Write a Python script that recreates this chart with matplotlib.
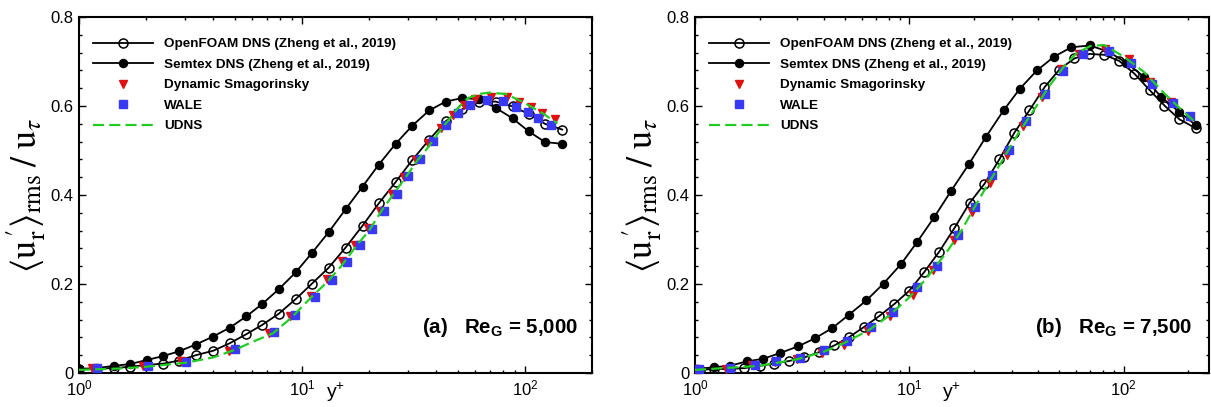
import matplotlib
matplotlib.use("Agg")
import matplotlib.pyplot as plt
from matplotlib.ticker import LogLocator, MultipleLocator, NullFormatter, FuncFormatter

plt.rcParams['font.family'] = ['Liberation Sans', 'DejaVu Sans']
plt.rcParams['mathtext.fontset'] = 'custom'
plt.rcParams['mathtext.rm'] = 'Liberation Sans'
plt.rcParams['mathtext.bf'] = 'Liberation Sans:bold'

# ---------------------------------------------------------------- data
# (a) Re_G = 5,000
semtex_x_a = [1.0, 1.2, 1.43, 1.69, 2.01, 2.38, 2.82, 3.34, 4.0, 4.75, 5.62, 6.63,
              7.86, 9.37, 11.1, 13.2, 15.7, 18.7, 22.1, 26.3, 31.3, 37.2, 44.2,
              52.5, 62.0, 73.9, 88.2, 104, 123, 147]
semtex_y_a = [0.009, 0.011, 0.016, 0.020, 0.029, 0.038, 0.049, 0.064, 0.082, 0.102,
              0.127, 0.155, 0.188, 0.226, 0.270, 0.317, 0.368, 0.419, 0.468, 0.515,
              0.556, 0.590, 0.610, 0.618, 0.615, 0.596, 0.572, 0.543, 0.519, 0.515]
ofoam_y_a = [0.009, 0.010, 0.011, 0.014, 0.018, 0.021, 0.028, 0.040, 0.050, 0.067,
             0.087, 0.108, 0.133, 0.166, 0.201, 0.237, 0.282, 0.331, 0.381, 0.429,
             0.479, 0.524, 0.566, 0.593, 0.608, 0.610, 0.599, 0.582, 0.560, 0.547]
dsmag_x_a = [1.14, 1.93, 2.88, 4.71, 7.1, 8.85, 11.0, 13.0, 15.1, 17.3, 19.7, 22.4,
             25.3, 28.6, 32.4, 36.8, 42.0, 47.8, 53.3, 59.7, 70.5, 82.8, 94, 106,
             119, 136]
dsmag_y_a = [0.012, 0.016, 0.026, 0.049, 0.090, 0.128, 0.174, 0.212, 0.251, 0.288,
             0.326, 0.365, 0.402, 0.440, 0.479, 0.516, 0.550, 0.580, 0.602, 0.615,
             0.620, 0.621, 0.608, 0.597, 0.585, 0.571]
wale_x_a = [1.21, 2.04, 3.03, 4.99, 7.5, 9.3, 11.45, 13.7, 15.9, 18.2, 20.6, 23.3,
            26.6, 30.0, 34.0, 38.7, 44.4, 50.3, 56.6, 67.5, 80, 91, 103, 115, 131]
wale_y_a = [0.012, 0.015, 0.024, 0.053, 0.093, 0.131, 0.171, 0.210, 0.250, 0.287,
            0.324, 0.363, 0.402, 0.442, 0.482, 0.522, 0.558, 0.585, 0.603, 0.614,
            0.611, 0.598, 0.586, 0.574, 0.558]
udns_x_a = [1.0, 1.5, 2.0, 3.0, 4.0, 5.0, 6.0, 7.4, 9.0, 11, 13, 15, 17.5, 20, 23,
            26, 29.2, 33, 36.5, 41, 45.7, 50, 55.2, 62, 69, 82, 97, 119, 140]
udns_y_a = [0.007, 0.010, 0.014, 0.023, 0.035, 0.052, 0.070, 0.089, 0.125, 0.170,
            0.205, 0.240, 0.285, 0.320, 0.368, 0.405, 0.440, 0.478, 0.505, 0.540,
            0.570, 0.595, 0.617, 0.627, 0.630, 0.627, 0.610, 0.585, 0.561]

# (b) Re_G = 7,500
semtex_x_b = [1.02, 1.22, 1.45, 1.74, 2.08, 2.50, 3.03, 3.63, 4.37, 5.23, 6.3, 7.58,
              9.12, 10.9, 13.1, 15.7, 19.0, 22.8, 27.5, 32.8, 39.4, 47.4, 57, 69.5,
              85, 103, 124, 149, 181, 217]
semtex_y_b = [0.009, 0.013, 0.016, 0.026, 0.032, 0.045, 0.060, 0.078, 0.101, 0.131,
              0.163, 0.201, 0.244, 0.295, 0.351, 0.410, 0.470, 0.531, 0.590, 0.639,
              0.680, 0.711, 0.732, 0.736, 0.722, 0.697, 0.666, 0.621, 0.587, 0.557]
ofoam_x_b = [1.05, 1.23, 1.45, 1.70, 2.0, 2.34, 2.75, 3.24, 3.80, 4.47, 5.25, 6.17,
             7.24, 8.51, 10.0, 11.7, 13.8, 16.2, 19.1, 22.4, 26.3, 30.9, 36.3, 42.7,
             50.1, 58.9, 69.2, 81.3, 95.5, 112, 132, 155, 182, 217]
ofoam_y_b = [0.007, 0.009, 0.009, 0.011, 0.016, 0.021, 0.027, 0.035, 0.047, 0.062,
             0.081, 0.104, 0.128, 0.155, 0.185, 0.226, 0.273, 0.325, 0.382, 0.425,
             0.480, 0.540, 0.590, 0.642, 0.682, 0.707, 0.717, 0.715, 0.701, 0.673,
             0.636, 0.601, 0.570, 0.550]
dsmag_x_b = [1.0, 1.4, 1.85, 2.35, 3.0, 3.9, 4.95, 6.4, 8.1, 10.4, 12.9, 16.2, 19.7,
             23.8, 28.5, 34, 41.5, 51, 62, 82, 106, 133, 166, 203]
dsmag_y_b = [0.008, 0.010, 0.017, 0.024, 0.032, 0.046, 0.064, 0.095, 0.128, 0.175,
             0.232, 0.298, 0.362, 0.428, 0.490, 0.556, 0.620, 0.684, 0.717, 0.729,
             0.705, 0.655, 0.610, 0.575]
wale_x_b = [1.04, 1.45, 1.9, 2.4, 3.1, 4.0, 5.1, 6.6, 8.4, 10.9, 13.4, 16.8, 20.2,
            24.4, 29.2, 35.0, 42.8, 52.1, 64.5, 85.3, 108, 135, 169, 204]
wale_y_b = [0.009, 0.011, 0.019, 0.026, 0.034, 0.051, 0.072, 0.103, 0.138, 0.193,
            0.241, 0.310, 0.373, 0.445, 0.502, 0.567, 0.627, 0.679, 0.717, 0.724,
            0.696, 0.649, 0.606, 0.578]
udns_x_b = [1.0, 2.0, 3.0, 4.0, 5.0, 6.5, 8.0, 10, 12, 15, 17.5, 20, 23.5, 27.5, 32,
            38, 45, 52.5, 60, 70, 81, 100, 124, 155, 180, 206, 220]
udns_y_b = [0.007, 0.016, 0.031, 0.048, 0.068, 0.097, 0.128, 0.170, 0.212, 0.273,
            0.320, 0.370, 0.428, 0.482, 0.536, 0.590, 0.645, 0.688, 0.718, 0.735,
            0.737, 0.711, 0.677, 0.628, 0.598, 0.572, 0.560]

labels = ["OpenFOAM DNS (Zheng et al., 2019)", "Semtex DNS (Zheng et al., 2019)",
          "Dynamic Smagorinsky", "WALE", "UDNS"]
panel_text = [r"(a)   Re$_{\mathbf{G}}$ = 5,000", r"(b)   Re$_{\mathbf{G}}$ = 7,500"]

RED = '#dd1111'
BLUE = '#3838f5'
GREEN = '#22cc22'

W, H = 1211, 407
fig = plt.figure(figsize=(W / 100, H / 100), dpi=100)
ax_a = fig.add_axes([79 / W, 34 / H, 513 / W, 356 / H])
ax_b = fig.add_axes([695 / W, 34 / H, 514 / W, 356 / H])


def ytick_fmt(v, pos):
    return '0' if abs(v) < 1e-9 else f'{v:.1f}'


def draw(ax, ofoam_x, ofoam_y, semtex_x, semtex_y, dsmag_x, dsmag_y,
         wale_x, wale_y, udns_x, udns_y, xmax, txt, txt_x):
    ax.plot(ofoam_x, ofoam_y, '-', color='k', lw=1.3, marker='o', ms=6.5,
            mfc='none', mec='k', mew=1.1, label=labels[0], zorder=3)
    ax.plot(semtex_x, semtex_y, '-', color='k', lw=1.3, marker='o', ms=5.8,
            mfc='k', mec='k', label=labels[1], zorder=3)
    ax.plot(dsmag_x, dsmag_y, ls='none', marker='v', ms=5.5, color=RED,
            label=labels[2], zorder=4)
    ax.plot(wale_x, wale_y, ls='none', marker='s', ms=5.2, color=BLUE,
            label=labels[3], zorder=5)
    ax.plot(udns_x, udns_y, ls=(0, (5, 2.3)), color=GREEN, lw=1.6,
            label=labels[4], zorder=6)

    ax.set_xscale('log')
    ax.set_xlim(1, xmax)
    ax.set_ylim(0, 0.8)
    ax.yaxis.set_major_locator(MultipleLocator(0.2))
    ax.yaxis.set_minor_locator(MultipleLocator(0.04))
    ax.yaxis.set_major_formatter(FuncFormatter(ytick_fmt))
    ax.xaxis.set_major_locator(LogLocator(base=10))
    ax.xaxis.set_minor_locator(LogLocator(base=10, subs=range(2, 10)))
    ax.xaxis.set_minor_formatter(NullFormatter())
    ax.tick_params(which='both', direction='in', top=True, right=True,
                   labelsize=12, width=1.0, pad=4)
    ax.tick_params(which='major', length=5)
    ax.tick_params(which='minor', length=2.5)
    for s in ax.spines.values():
        s.set_linewidth(1.5)

    ax.set_xlabel(r'y$^{+}$', fontsize=14, labelpad=-13)
    ax.set_ylabel(r'$\langle \mathrm{u}_{\mathrm{r}}^{\,\prime} \rangle_{\mathrm{rms}}\;/\;\mathrm{u}_{\tau}$',
                  fontsize=26, math_fontfamily='stix', labelpad=2)

    ax.legend(loc='upper left', bbox_to_anchor=(0.028, 0.941), frameon=False,
              prop={'weight': 'bold', 'size': 9.7}, handlelength=4.4,
              handletextpad=0.85, labelspacing=0.6, borderpad=0,
              borderaxespad=0)
    ax.text(txt_x, 0.112, txt, transform=ax.transAxes, ha='right', va='baseline',
            fontsize=14.8, fontweight='bold')


draw(ax_a, semtex_x_a, ofoam_y_a, semtex_x_a, semtex_y_a, dsmag_x_a, dsmag_y_a,
     wale_x_a, wale_y_a, udns_x_a, udns_y_a, 200, panel_text[0], 0.972)
draw(ax_b, ofoam_x_b, ofoam_y_b, semtex_x_b, semtex_y_b, dsmag_x_b, dsmag_y_b,
     wale_x_b, wale_y_b, udns_x_b, udns_y_b, 250, panel_text[1], 0.967)

fig.savefig('out.png', dpi=100)
